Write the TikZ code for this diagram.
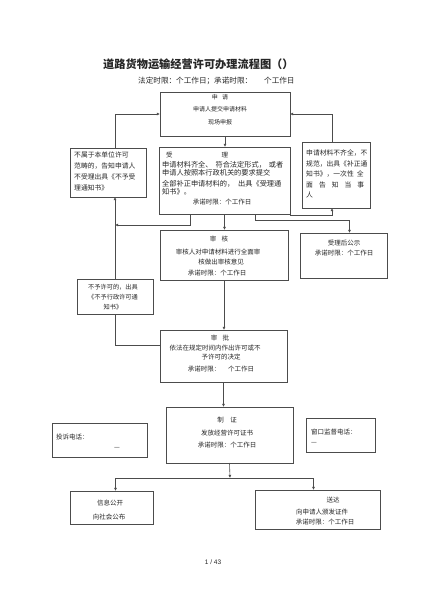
\documentclass[tikz,border=0pt]{standalone}
\usepackage{fontspec}
\setmainfont{Noto Sans CJK SC}
\newfontfamily\pagefont{Liberation Sans}
\usetikzlibrary{arrows.meta}
\begin{document}
\begin{tikzpicture}[x=1pt,y=-1pt,
  box/.style={draw=black!70, line width=0.6pt, anchor=north west, inner sep=0pt, outer sep=0pt},
  txt/.style={inner sep=0pt, text=black!85, font=\fontsize{6.5}{10}\selectfont, align=center},
  ltxt/.style={txt, align=left, anchor=west},
  conn/.style={draw=black!70, line width=0.6pt},
  arr/.style={conn, -{Latex[length=3.2pt,width=3pt]}}]
\useasboundingbox[fill=white] (0,0) rectangle (423,600);

% title
\node[txt, anchor=west, font=\fontsize{11.2}{13}\selectfont\bfseries] (title) at (103,64) {道路货物运输经营许可办理流程图（）};
\node[txt, anchor=west, font=\fontsize{7.6}{9}\selectfont] (subtitle) at (138,81) {法定时限：个工作日；承诺时限：\hspace{12pt}个工作日};

% boxes
\node[box, minimum width=130pt, minimum height=44pt] (shenqing) at (160,92) {};
\node[box, minimum width=131pt, minimum height=67pt] (shouli) at (159,147) {};
\node[box, minimum width=76pt, minimum height=49pt] (bushu) at (70,148) {};
\node[box, minimum width=68pt, minimum height=66pt] (buqi) at (302,142) {};
\node[box, minimum width=128pt, minimum height=50pt] (shenhe) at (160,230) {};
\node[box, minimum width=87pt, minimum height=45pt] (gongshi) at (300,233) {};
\node[box, minimum width=76pt, minimum height=35pt] (buyu) at (77,279) {};
\node[box, minimum width=127pt, minimum height=52pt] (shenpi) at (160,330) {};
\node[box, minimum width=127pt, minimum height=56pt] (zhizheng) at (166,407) {};
\node[box, minimum width=95pt, minimum height=34pt] (tousu) at (52,423) {};
\node[box, minimum width=69pt, minimum height=34pt] (chuangkou) at (306,418) {};
\node[box, minimum width=83pt, minimum height=33pt] (xinxi) at (70,491) {};
\node[box, minimum width=125pt, minimum height=39pt] (songda) at (255,490) {};

% texts
\node[txt, font=\fontsize{6}{12.5}\selectfont] (t-shenqing) at (220,109.5) {申\hspace{0.7em}请\\申请人提交申请材料\\现场申报};

\node[ltxt] (t-shouli-a) at (166,155) {受\hspace{49pt}理};
\node[ltxt, font=\fontsize{7.2}{8}\selectfont] (t-shouli-b) at (162,169) {申请材料齐全、\hspace{3pt}符合法定形式，\hspace{3pt}或者\\申请人按照本行政机关的要求提交};
\node[ltxt, font=\fontsize{7.2}{8}\selectfont] (t-shouli-c) at (162,188) {全部补正申请材料的，\hspace{4pt}出具《受理通\\知书》。};
\node[txt] (t-shouli-d) at (222,202) {承诺时限：个工作日};

\node[ltxt, font=\fontsize{6.8}{11}\selectfont] (t-bushu) at (74,171.5) {不属于本单位许可\\范畴的，告知申请人\\不受理出具《不予受\\理通知书》};

\node[ltxt, font=\fontsize{6.8}{10.5}\selectfont] (t-buqi) at (306,174) {申请材料不齐全，不\\规范，出具《补正通\\知书》，一次性\hspace{3pt}全\\面\hspace{6pt}告\hspace{6pt}知\hspace{6pt}当\hspace{6pt}事\\人};

\node[txt] (t-shenhe-a) at (219,239) {审\hspace{0.8em}核};
\node[txt] (t-shenhe-b) at (218,252) {审核人对申请材料进行全面审};
\node[txt] (t-shenhe-c) at (221,262) {核做出审核意见};
\node[txt] (t-shenhe-d) at (217,273) {承诺时限：个工作日};

\node[txt] (t-gongshi) at (344,248) {受理后公示\\承诺时限：个工作日};

\node[txt, font=\fontsize{6.2}{10}\selectfont] (t-buyu) at (113,297) {不予许可的，出具\\《不予行政许可通\\知书》};

\node[txt] (t-shenpi-a) at (220,338) {审\hspace{0.8em}批};
\node[txt] (t-shenpi-b) at (215,348) {依法在规定时间内作出许可或不};
\node[txt] (t-shenpi-c) at (221,357) {予许可的决定};
\node[txt] (t-shenpi-d) at (221,369) {承诺时限：\hspace{8pt}个工作日};

\node[txt] (t-zhizheng-a) at (227,420) {制\hspace{1em}证};
\node[txt] (t-zhizheng-b) at (227,433) {发放经营许可证书};
\node[txt] (t-zhizheng-c) at (227,445) {承诺时限：个工作日};

\node[ltxt] (t-tousu-a) at (56,437) {投诉电话：};
\node[txt] (t-tousu-b) at (117,448) {—};
\node[ltxt] (t-chuangkou-a) at (311,432) {窗口监督电话：};
\node[ltxt] (t-chuangkou-b) at (311,443) {—};

\node[txt] (t-xinxi-a) at (110,503) {信息公开};
\node[txt] (t-xinxi-b) at (109,517) {向社会公布};

\node[txt] (t-songda-a) at (333,500) {送达};
\node[txt] (t-songda-b) at (322,512) {向申请人颁发证件};
\node[txt] (t-songda-c) at (325,522) {承诺时限：个工作日};

\node[txt, font=\pagefont\fontsize{6.5}{8}\selectfont] (page) at (213,562) {1 / 43};

% connectors
\draw[arr] (shenqing.south) -- (shenqing.south |- shouli.north);
\draw[arr] (buyu.north |- bushu.north) |- (shenqing.west);
\draw[arr] ([xshift=-4pt]buqi.north) |- (shenqing.east);
\draw[arr] ([yshift=-1.5pt]shouli.south east) -| ([xshift=-4pt]buqi.south);
\draw[arr] ([xshift=31pt]shouli.south) -- ++(0,6) -| ([xshift=6pt]gongshi.north);
\draw[arr] (shouli.south) -- (shouli.south |- shenhe.north);
\coordinate (j1) at (115,225);
\draw[arr] ([xshift=-34pt]shouli.south) |- (j1);
\draw[arr] (buyu.north) -- (buyu.north |- bushu.south);
\draw[arr] (shenhe.south) -- (shenhe.south |- shenpi.north);
\draw[conn] ([yshift=11pt]shenpi.west) -| (buyu.south);
\draw[arr] (shenpi.south) -- (shenpi.south |- zhizheng.north);
\coordinate (split) at (230,478);
\draw[arr] (zhizheng.south) -- (split);
\draw[arr] (split) -| ([xshift=4pt]xinxi.north);
\draw[arr] (split) -| ([xshift=-4pt]songda.north);
\end{tikzpicture}
\end{document}
